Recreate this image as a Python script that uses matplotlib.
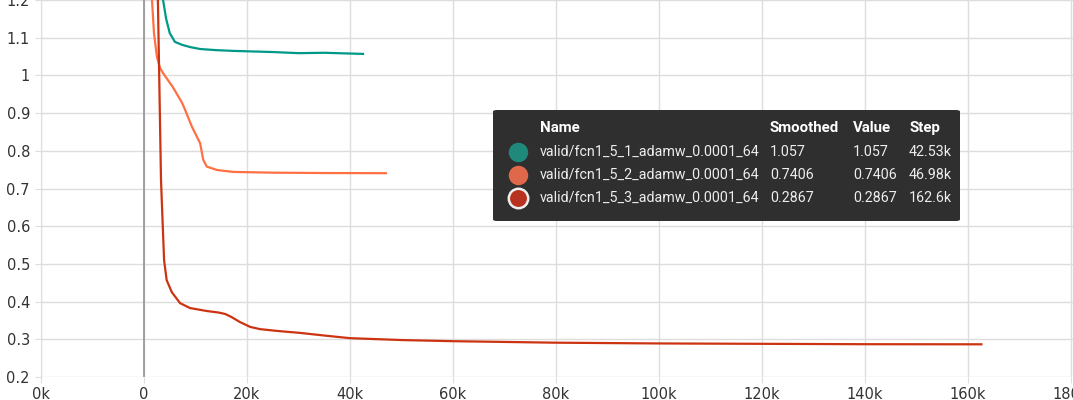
import matplotlib
matplotlib.use("Agg")
import matplotlib.pyplot as plt
from matplotlib.patches import FancyBboxPatch
from matplotlib.ticker import FixedLocator, FixedFormatter

plt.rcParams["font.family"] = ["DejaVu Sans"]

# ── data (step in thousands, loss value) ────────────────────────────────
run_names = ["valid/fcn1_5_1_adamw_0.0001_64",
             "valid/fcn1_5_2_adamw_0.0001_64",
             "valid/fcn1_5_3_adamw_0.0001_64"]
smoothed = ["1.057", "0.7406", "0.2867"]
values = ["1.057", "0.7406", "0.2867"]
steps = ["42.53k", "46.98k", "162.6k"]

teal_x = [3.0, 3.7, 4.3, 5.0, 6.0, 7.4, 9.0, 10.9, 14.0, 17.3, 25.0, 30.0, 35.0, 42.53]
teal_y = [1.4, 1.2, 1.15, 1.112, 1.089, 1.081, 1.075, 1.070, 1.067, 1.065, 1.062, 1.059, 1.060, 1.057]

orange_x = [0.8, 1.55, 1.94, 2.5, 3.1, 3.7, 5.6, 7.4, 8.0, 9.3, 10.9, 11.5, 12.2, 14.2, 17.3,
            25.0, 35.0, 46.98]
orange_y = [1.6, 1.2, 1.112, 1.05, 1.02, 1.006, 0.969, 0.927, 0.908, 0.864, 0.82, 0.776, 0.758,
            0.749, 0.744, 0.742, 0.741, 0.7406]

red_x = [2.0, 2.7, 3.3, 3.6, 3.9, 4.4, 5.4, 7.0, 8.9, 12.2, 14.5, 15.8, 17.0, 18.6, 20.6, 22.5,
         26.0, 30.3, 35.0, 40.0, 50.0, 60.0, 80.0, 100.0, 120.0, 140.0, 162.6]
red_y = [2.0, 1.2, 0.723, 0.616, 0.51, 0.457, 0.425, 0.396, 0.383, 0.375, 0.371, 0.367, 0.359,
         0.346, 0.333, 0.327, 0.322, 0.317, 0.310, 0.303, 0.298, 0.295, 0.291, 0.289, 0.288, 0.287,
         0.2867]

x_ticks = [-20, 0, 20, 40, 60, 80, 100, 120, 140, 160, 180]
x_labels = ["0k", "0", "20k", "40k", "60k", "80k", "100k", "120k", "140k", "160k", "180k"]
y_ticks = [0.2, 0.3, 0.4, 0.5, 0.6, 0.7, 0.8, 0.9, 1.0, 1.1, 1.2]
y_labels = ["0.2", "0.3", "0.4", "0.5", "0.6", "0.7", "0.8", "0.9", "1", "1.1", "1.2"]

line_colors = ["#009988", "#ff7043", "#cc3311"]
dot_colors = ["#1f8a7c", "#e0684a", "#b83220"]

W, H = 1073, 400
fig = plt.figure(figsize=(W / 100, H / 100), dpi=100)
ax = fig.add_axes([41 / W, 23 / H, 1032 / W, 377 / H])

for xs, ys, c in [(teal_x, teal_y, line_colors[0]),
                  (orange_x, orange_y, line_colors[1]),
                  (red_x, red_y, line_colors[2])]:
    ax.plot(xs, ys, color=c, lw=1.6, zorder=3)

ax.axvline(0, color="#999999", lw=1.3, zorder=2)

ax.set_xlim(-20, -20 + 1032 * 20 / 103)
ax.set_ylim(0.2, 1.2)
ax.xaxis.set_major_locator(FixedLocator(x_ticks))
ax.xaxis.set_major_formatter(FixedFormatter(x_labels))
ax.yaxis.set_major_locator(FixedLocator(y_ticks))
ax.yaxis.set_major_formatter(FixedFormatter(y_labels))
ax.grid(True, color="#dddddd", lw=1.0, zorder=0)
for s in ["top", "right", "bottom"]:
    ax.spines[s].set_visible(False)
ax.spines["left"].set_color("#dddddd")
ax.tick_params(axis="both", colors="#dddddd", length=4, labelcolor="#333333", labelsize=10.5)
ax.tick_params(axis="x", pad=3)
ax.tick_params(axis="y", pad=4)

# ── tooltip box ─────────────────────────────────────────────────────────
def fx(px):
    return px / W


def fy(py):
    return 1 - py / H


box = FancyBboxPatch((fx(493), fy(221)), fx(960) - fx(493), fy(110) - fy(221),
                     boxstyle="round,pad=0,rounding_size=0.004",
                     transform=fig.transFigure, facecolor="#2f2f2f", edgecolor="none",
                     zorder=10)
fig.patches.append(box)

tip_font = ["Roboto", "DejaVu Sans"]
cols = [540, 770, 853, 909]
for px, txt in zip(cols, ["Name", "Smoothed", "Value", "Step"]):
    fig.text(fx(px), fy(128), txt, color="white", fontsize=10.8, fontweight="bold",
             family=tip_font, va="center", ha="left", zorder=11)

row_y = [152, 175, 198]
for i, yy in enumerate(row_y):
    for px, txt in zip(cols, [run_names[i], smoothed[i], values[i], steps[i]]):
        fig.text(fx(px), fy(yy), txt, color="#eeeeee", fontsize=10.3, family=tip_font,
                 va="center", zorder=11)
    edge = "#eeeeee" if i == 2 else "none"
    fig.add_artist(plt.Line2D([fx(518)], [fy(yy)], marker="o", markersize=14,
                              markerfacecolor=dot_colors[i], markeredgecolor=edge,
                              markeredgewidth=1.8, transform=fig.transFigure, zorder=12))

fig.savefig("out.png", dpi=100)
